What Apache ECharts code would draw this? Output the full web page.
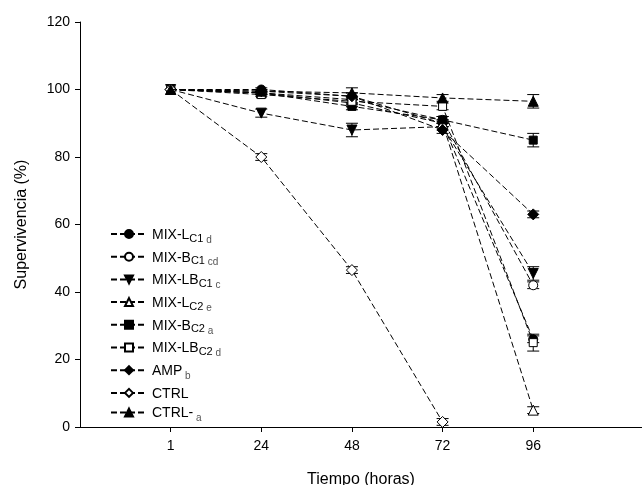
<!DOCTYPE html>
<html>
<head>
<meta charset="utf-8">
<script src="https://cdn.jsdelivr.net/npm/echarts@6/dist/echarts.min.js"></script>
<style>
html,body{margin:0;padding:0;background:#fff;}
#chart{width:642px;height:485px;}
</style>
</head>
<body>
<div id="chart"></div>
<script>
// Time points (hours), placed at equally spaced positions 1..5
const xLabels = ['1', '24', '48', '72', '96'];
const yTicks = [0, 20, 40, 60, 80, 100, 120];

// Legend names split into [main, small-caps part, subscript letter]
const namesParts = [
  ['MIX-L', 'C1', 'd'],
  ['MIX-B', 'C1', 'cd'],
  ['MIX-LB', 'C1', 'c'],
  ['MIX-L', 'C2', 'e'],
  ['MIX-B', 'C2', 'a'],
  ['MIX-LB', 'C2', 'd'],
  ['AMP', '', 'b'],
  ['CTRL', '', ''],
  ['CTRL-', '', 'a']
];

// Survival values (%)
const mixLc1  = [100, 100, 98, 90, 26];
const mixBc1  = [100, 99, 97, 91, 42];
const mixLBc1 = [100, 93, 88, 89, 45.5];
const mixLc2  = [100, 99, 96, 90, 5];
const mixBc2  = [100, 99, 95, 91, 85];
const mixLBc2 = [100, 98.5, 96.5, 95, 25];
const amp     = [100, 99.5, 98, 88, 63];
const ctrl    = [100, 80, 46.5, 1.5, null];
const ctrlNeg = [100, 99.5, 99, 97.5, 96.5];

// Error (± SE)
const errLc1  = [0, 0.5, 1, 1, 1];
const errBc1  = [0, 0.5, 1, 1, 1];
const errLBc1 = [0, 1.2, 2, 1, 2];
const errLc2  = [0, 0.5, 1, 1, 1];
const errBc2  = [0, 0.5, 1, 1, 2];
const errLBc2 = [0, 0.5, 1, 1, 2.5];
const errAmp  = [0, 0.5, 1, 1, 1];
const errCtrl = [0, 1, 1, 1, 0];
const errCtrlNeg = [0, 0.5, 1.5, 1, 2];

const seriesValues = [mixLc1, mixBc1, mixLBc1, mixLc2, mixBc2, mixLBc2, amp, ctrl, ctrlNeg];
const seriesErrors = [errLc1, errBc1, errLBc1, errLc2, errBc2, errLBc2, errAmp, errCtrl, errCtrlNeg];

const styles = [
  {symbol: 'circle', fill: '#000', rotate: 0},
  {symbol: 'circle', fill: '#fff', rotate: 0},
  {symbol: 'triangle', fill: '#000', rotate: 180},
  {symbol: 'triangle', fill: '#fff', rotate: 0},
  {symbol: 'rect', fill: '#000', rotate: 0},
  {symbol: 'rect', fill: '#fff', rotate: 0},
  {symbol: 'diamond', fill: '#000', rotate: 0},
  {symbol: 'diamond', fill: '#fff', rotate: 0},
  {symbol: 'triangle', fill: '#000', rotate: 0}
];

const names = namesParts.map(p => p.join('|'));
const FONT = '"Liberation Sans", Arial, sans-serif';

const series = [];
// error bars
namesParts.forEach((p, si) => {
  const errData = [];
  seriesValues[si].forEach((v, i) => {
    if (v != null && seriesErrors[si][i] > 0) {
      errData.push([i + 1, v - seriesErrors[si][i], v + seriesErrors[si][i]]);
    }
  });
  series.push({
    type: 'custom',
    silent: true,
    z: 1,
    renderItem: function (params, api) {
      const x = api.value(0);
      const lo = api.coord([x, api.value(1)]);
      const hi = api.coord([x, api.value(2)]);
      const w = 6;
      const st = {stroke: '#000', lineWidth: 1};
      return {
        type: 'group',
        children: [
          {type: 'line', shape: {x1: lo[0], y1: lo[1], x2: hi[0], y2: hi[1]}, style: st},
          {type: 'line', shape: {x1: lo[0] - w, y1: lo[1], x2: lo[0] + w, y2: lo[1]}, style: st},
          {type: 'line', shape: {x1: hi[0] - w, y1: hi[1], x2: hi[0] + w, y2: hi[1]}, style: st}
        ]
      };
    },
    data: errData
  });
});
namesParts.forEach((p, si) => {
  const st = styles[si];
  series.push({
    name: names[si],
    type: 'line',
    z: 2 + si,
    data: seriesValues[si].map((v, i) => [i + 1, v]),
    symbol: st.symbol,
    symbolRotate: st.rotate,
    symbolSize: st.symbol === 'rect' ? 8 : (st.symbol === 'diamond' ? 11 : (st.symbol === 'triangle' ? 10 : 9)),
    showAllSymbol: true,
    lineStyle: {color: '#000', width: 1, type: [6, 3]},
    itemStyle: {color: st.fill, borderColor: '#000', borderWidth: 1},
    emphasis: {disabled: true},
    animation: false
  });
});

const chart = echarts.init(document.getElementById('chart'), null, {renderer: 'canvas'});
chart.setOption({
  backgroundColor: '#fff',
  animation: false,
  textStyle: {fontFamily: FONT},
  grid: {left: 80, right: 0, top: 22, bottom: 58, containLabel: false, outerBoundsMode: 'none'},
  legend: {
    orient: 'vertical',
    left: 110,
    top: 228,
    itemWidth: 36,
    itemHeight: 10,
    itemGap: 5.7,
    padding: 0,
    data: names,
    formatter: function (name) {
      const p = name.split('|');
      let s = '{m|' + p[0] + '}';
      if (p[1]) s += '{c|' + p[1] + '}';
      if (p[2]) s += '{s| ' + p[2] + '}';
      return s;
    },
    textStyle: {
      fontFamily: FONT,
      rich: {
        m: {fontSize: 14, color: '#000', fontFamily: FONT, lineHeight: 16, verticalAlign: 'bottom'},
        c: {fontSize: 11, color: '#000', fontFamily: FONT, lineHeight: 16, verticalAlign: 'bottom', padding: [0, 0, -2, 0]},
        s: {fontSize: 10, color: '#555', fontFamily: FONT, lineHeight: 16, verticalAlign: 'bottom', padding: [0, 0, -3, 0]}
      }
    }
  },
  xAxis: {
    type: 'value',
    min: 0,
    max: 6.2,
    name: 'Tiempo (horas)',
    nameLocation: 'middle',
    nameGap: 45,
    nameTextStyle: {fontSize: 16, color: '#000', fontFamily: FONT},
    splitLine: {show: false},
    axisLine: {lineStyle: {color: '#000', width: 1}},
    axisTick: {customValues: [1, 2, 3, 4, 5], length: 5, lineStyle: {color: '#000'}},
    axisLabel: {
      customValues: [1, 2, 3, 4, 5],
      formatter: v => xLabels[Math.round(v) - 1] || '',
      fontSize: 14, color: '#000', margin: 12, fontFamily: FONT
    }
  },
  yAxis: {
    type: 'value',
    min: 0,
    max: 120,
    interval: 20,
    name: 'Supervivencia (%)',
    nameLocation: 'middle',
    nameGap: 50,
    nameTextStyle: {fontSize: 16, color: '#000', fontFamily: FONT},
    splitLine: {show: false},
    axisLine: {show: true, lineStyle: {color: '#000', width: 1}},
    axisTick: {show: true, length: 5, lineStyle: {color: '#000'}},
    axisLabel: {fontSize: 14, color: '#000', margin: 10, fontFamily: FONT,
      formatter: v => yTicks.indexOf(v) >= 0 ? String(v) : ''}
  },
  series: series
});
</script>
</body>
</html>
